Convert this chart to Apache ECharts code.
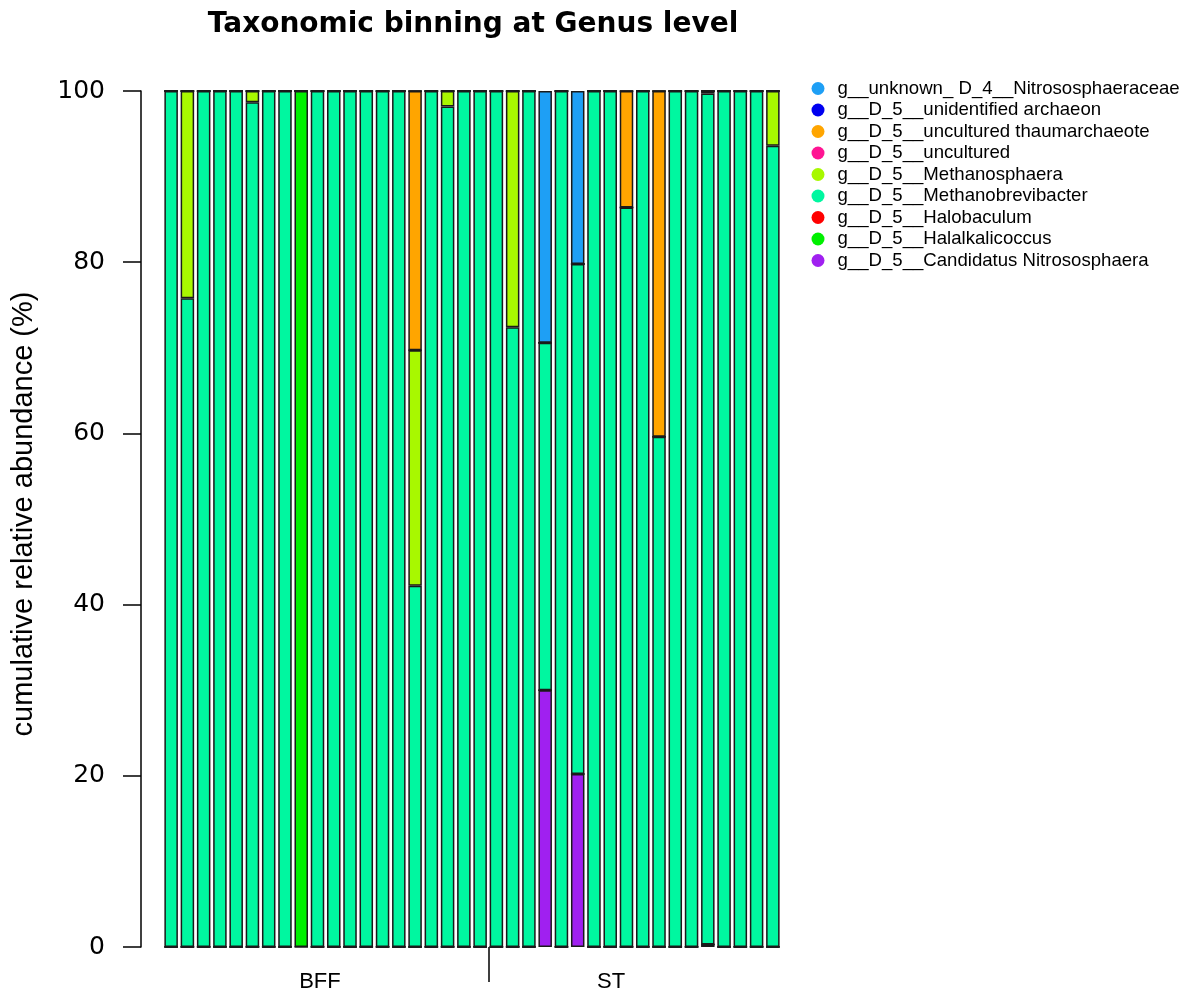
<!DOCTYPE html>
<html>
<head>
<meta charset="utf-8">
<script src="https://cdn.jsdelivr.net/npm/echarts@6/dist/echarts.min.js"></script>
<style>
  html, body { margin: 0; padding: 0; background: #fff; }
  #chart { width: 1187px; height: 995px; }
</style>
</head>
<body>
<div id="chart"></div>
<script>
// Samples: 20 from BFF, 18 from ST
const samples = [
  'BFF_1','BFF_2','BFF_3','BFF_4','BFF_5','BFF_6','BFF_7','BFF_8','BFF_9','BFF_10',
  'BFF_11','BFF_12','BFF_13','BFF_14','BFF_15','BFF_16','BFF_17','BFF_18','BFF_19','BFF_20',
  'ST_1','ST_2','ST_3','ST_4','ST_5','ST_6','ST_7','ST_8','ST_9','ST_10',
  'ST_11','ST_12','ST_13','ST_14','ST_15','ST_16','ST_17','ST_18'
];
// Group labels and where they sit along the sample index axis
const groupLabels = ['BFF', 'ST'];
const groupLabelPos = [9.15, 27.05];
const groupDivider = [19.5];
const yTicks = [0, 20, 40, 60, 80, 100];

// Relative abundance (%) per genus, one value per sample (stacked bottom to top)
const candidatusNitrososphaera = [
  0,0,0,0,0,0,0,0,0,0, 0,0,0,0,0,0,0,0,0,0,
  0,0,0,30.0,0,20.2,0,0,0,0, 0,0,0,0.3,0,0,0,0
];
const halalkalicoccus = [
  0,0,0,0,0,0,0,0,100,0, 0,0,0,0,0,0,0,0,0,0,
  0,0,0,0,0,0,0,0,0,0, 0,0,0,0,0,0,0,0
];
const halobaculum = [
  0,0,0,0,0,0,0,0,0,0, 0,0,0,0,0,0,0,0,0,0,
  0,0,0,0,0,0,0,0,0,0, 0,0,0,0,0,0,0,0
];
const methanobrevibacter = [
  100,75.8,100,100,100,98.7,100,100,0,100, 100,100,100,100,100,42.2,100,98.2,100,100,
  100,72.4,100,40.6,100,59.6,100,100,86.4,100, 59.6,100,100,99.4,100,100,100,93.6
];
const methanosphaera = [
  0,24.2,0,0,0,1.3,0,0,0,0, 0,0,0,0,0,27.5,0,1.8,0,0,
  0,27.6,0,0,0,0,0,0,0,0, 0,0,0,0.3,0,0,0,6.4
];
const uncultured = [
  0,0,0,0,0,0,0,0,0,0, 0,0,0,0,0,0,0,0,0,0,
  0,0,0,0,0,0,0,0,0,0, 0,0,0,0,0,0,0,0
];
const unculturedThaumarchaeote = [
  0,0,0,0,0,0,0,0,0,0, 0,0,0,0,0,30.3,0,0,0,0,
  0,0,0,0,0,0,0,0,13.6,0, 40.4,0,0,0,0,0,0,0
];
const unidentifiedArchaeon = [
  0,0,0,0,0,0,0,0,0,0, 0,0,0,0,0,0,0,0,0,0,
  0,0,0,0,0,0,0,0,0,0, 0,0,0,0,0,0,0,0
];
const unknownNitrososphaeraceae = [
  0,0,0,0,0,0,0,0,0,0, 0,0,0,0,0,0,0,0,0,0,
  0,0,0,29.4,0,20.2,0,0,0,0, 0,0,0,0,0,0,0,0
];

// Stack order: first entry sits at the bottom of each bar
const genera = [
  { name: 'g__D_5__Candidatus Nitrososphaera', color: '#A020F0', data: candidatusNitrososphaera },
  { name: 'g__D_5__Halalkalicoccus', color: '#00F000', data: halalkalicoccus },
  { name: 'g__D_5__Halobaculum', color: '#FF0000', data: halobaculum },
  { name: 'g__D_5__Methanobrevibacter', color: '#00F7A0', data: methanobrevibacter },
  { name: 'g__D_5__Methanosphaera', color: '#A8F800', data: methanosphaera },
  { name: 'g__D_5__uncultured', color: '#FF1493', data: uncultured },
  { name: 'g__D_5__uncultured thaumarchaeote', color: '#FFA500', data: unculturedThaumarchaeote },
  { name: 'g__D_5__unidentified archaeon', color: '#0000F0', data: unidentifiedArchaeon },
  { name: 'g__unknown_ D_4__Nitrososphaeraceae', color: '#1E9FF5', data: unknownNitrososphaeraceae }
];

const FONT = '"Liberation Sans", Arial, Helvetica, sans-serif';
const WIDE = '"DejaVu Sans", "Liberation Sans", sans-serif';
const chart = echarts.init(document.getElementById('chart'), null, { renderer: 'canvas' });

chart.setOption({
  animation: false,
  backgroundColor: '#ffffff',
  title: {
    text: 'Taxonomic binning at Genus level',
    left: 468,
    top: 6,
    textAlign: 'center',
    textStyle: { fontFamily: WIDE, fontWeight: 'bold', fontSize: 28, color: '#000' }
  },
  legend: {
    orient: 'vertical',
    left: 811.5,
    top: 78.5,
    padding: 0,
    icon: 'circle',
    itemWidth: 13,
    itemHeight: 13,
    itemGap: 1.5,
    data: genera.map(g => g.name).reverse(),
    itemStyle: { borderWidth: 0 },
    textStyle: { fontFamily: FONT, fontSize: 18.6, color: '#000', lineHeight: 20, padding: [0, 0, 0, 8] },
    selectedMode: false
  },
  grid: { left: 163, right: 406, top: 91, bottom: 48, outerBoundsMode: 'none', containLabel: false },
  xAxis: [
    {
      type: 'category',
      data: samples,
      boundaryGap: true,
      axisLine: { show: false },
      axisTick: { show: false },
      axisLabel: { show: false },
      splitLine: { show: false }
    },
    {
      // Group labels and the BFF / ST divider, on the sample index scale
      type: 'value',
      position: 'bottom',
      min: -0.5,
      max: samples.length - 0.5,
      axisLine: { show: false, onZero: false },
      axisTick: {
        show: true,
        customValues: groupDivider,
        length: 35,
        lineStyle: { color: '#000', width: 1.5 }
      },
      axisLabel: {
        customValues: groupLabelPos,
        margin: 24,
        fontFamily: FONT,
        fontSize: 22,
        color: '#000',
        formatter: (v) => groupLabels[groupLabelPos.indexOf(v)] || ''
      },
      splitLine: { show: false }
    }
  ],
  yAxis: {
    type: 'value',
    min: yTicks[0],
    max: yTicks[yTicks.length - 1],
    interval: 20,
    offset: 22,
    axisLine: { show: true, onZero: false, lineStyle: { color: '#000', width: 1.5 } },
    axisTick: { show: true, length: 18, lineStyle: { color: '#000', width: 1.5 } },
    axisLabel: { margin: 36, fontFamily: WIDE, fontSize: 25, color: '#000' },
    splitLine: { show: false },
    name: 'cumulative relative abundance (%)',
    nameLocation: 'middle',
    nameGap: 103,
    nameTextStyle: { fontFamily: FONT, fontSize: 29, color: '#000', padding: [0, 0, 0, 10] }
  },
  series: genera.map(g => ({
    name: g.name,
    type: 'bar',
    stack: 'abundance',
    xAxisIndex: 0,
    barWidth: 13.5,
    data: g.data,
    itemStyle: { color: g.color, borderColor: '#1a1a1a', borderWidth: 1.5 },
    emphasis: { disabled: true }
  }))
});
</script>
</body>
</html>
